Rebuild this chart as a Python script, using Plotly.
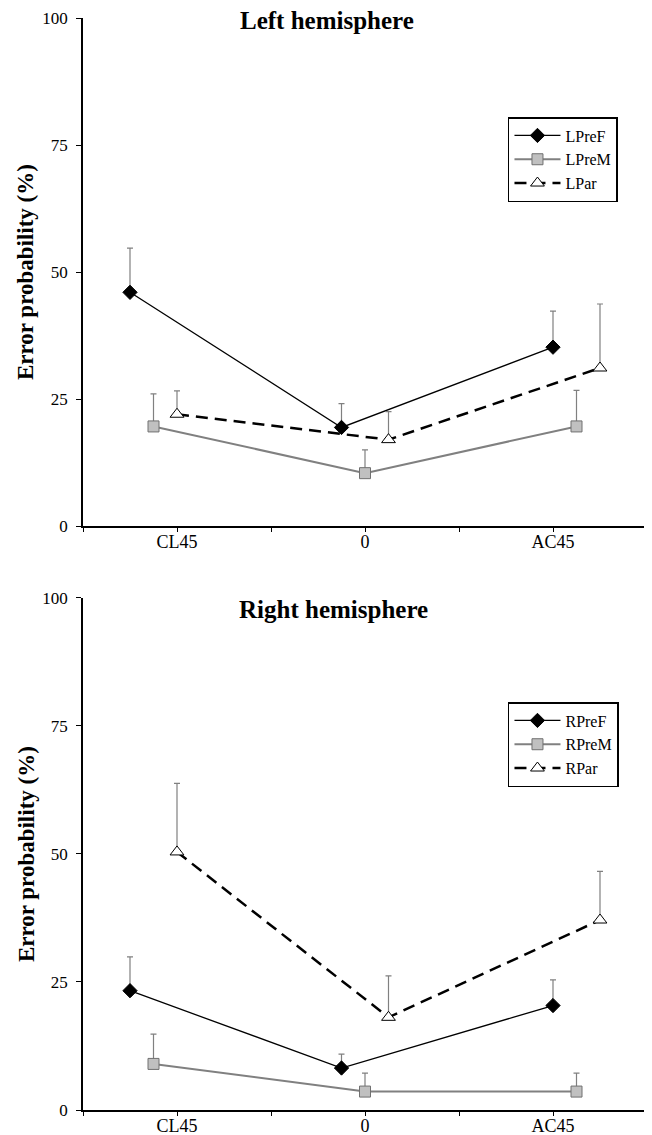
import plotly.graph_objects as go

# ---------------- data ----------------
categories = ["CL45", "0", "AC45"]
y_ticks = [0, 25, 50, 75, 100]

left_names = ["LPreF", "LPreM", "LPar"]
left_pref = [46.0, 19.4, 35.2]
left_pref_err = [8.7, 4.7, 7.1]
left_prem = [19.6, 10.4, 19.6]
left_prem_err = [6.4, 4.6, 7.1]
left_par = [22.0, 17.0, 31.1]
left_par_err = [4.6, 5.5, 12.6]

right_names = ["RPreF", "RPreM", "RPar"]
right_pref = [23.3, 8.2, 20.4]
right_pref_err = [6.6, 2.7, 5.0]
right_prem = [9.0, 3.6, 3.6]
right_prem_err = [5.8, 3.6, 3.6]
right_par = [50.4, 18.1, 37.1]
right_par_err = [13.4, 8.1, 9.5]

# ---------------- styles ----------------
FONT = "Liberation Serif, Times New Roman, serif"
styles = [
    dict(shift=-0.25,
         line=dict(color="black", width=1.3),
         marker=dict(symbol="diamond", size=11, color="black",
                     line=dict(color="black", width=1))),
    dict(shift=-0.125,
         line=dict(color="#808080", width=2),
         marker=dict(symbol="square", size=11, color="#c0c0c0",
                     line=dict(color="#707070", width=1))),
    dict(shift=0.0,
         line=dict(color="black", width=2.5, dash="12px,7px"),
         marker=dict(symbol="triangle-up", size=12, color="white",
                     line=dict(color="black", width=1))),
]
DRIFT = 0.125

fig = go.Figure()

panels = [
    ("x", "y", "legend", left_names,
     [left_pref, left_prem, left_par],
     [left_pref_err, left_prem_err, left_par_err]),
    ("x2", "y2", "legend2", right_names,
     [right_pref, right_prem, right_par],
     [right_pref_err, right_prem_err, right_par_err]),
]

for xa, ya, lg, names, vals, errs in panels:
    for name, v, e, st in zip(names, vals, errs, styles):
        xs = [i + st["shift"] + DRIFT * i for i in range(len(categories))]
        fig.add_trace(go.Scatter(
            x=xs, y=v, name=name, mode="lines+markers",
            line=st["line"], marker=st["marker"],
            error_y=dict(type="data", symmetric=False, array=e,
                         arrayminus=[0] * len(e), color="#808080",
                         thickness=1.2, width=3),
            xaxis=xa, yaxis=ya, legend=lg, showlegend=True,
        ))

tickvals_x = [-0.5, 0, 0.5, 1, 1.5, 2, 2.5]
ticktext_x = ["", categories[0], "", categories[1], "", categories[2], ""]

xaxis_common = dict(range=[-0.5, 2.5], tickvals=tickvals_x, ticktext=ticktext_x,
                    showline=True, linecolor="black", linewidth=1.6,
                    ticks="outside", ticklen=4, tickwidth=1.2, tickcolor="black",
                    ticklabelstandoff=-5,
                    showgrid=False, zeroline=False, automargin=False,
                    tickfont=dict(family=FONT, size=18, color="black"))
yaxis_common = dict(range=[0, 100], tickvals=y_ticks,
                    showline=True, linecolor="black", linewidth=1.6,
                    ticks="outside", ticklen=5, tickwidth=1.2, tickcolor="black",
                    ticklabelstandoff=5,
                    showgrid=False, zeroline=False, automargin=False,
                    tickfont=dict(family=FONT, size=17, color="black"))

legend_common = dict(bgcolor="white", bordercolor="black", borderwidth=1.5,
                     font=dict(family=FONT, size=16, color="black"),
                     xanchor="left", yanchor="top", x=0.7535,
                     itemwidth=46, itemclick=False, tracegroupgap=0)

# The page body has an 8px margin, so the figure is 8px smaller than the window.
fig.update_layout(
    width=644, height=1127,
    margin=dict(l=75, r=5, t=10, b=25),
    paper_bgcolor="white", plot_bgcolor="white",
    xaxis=dict(domain=[0, 1], anchor="y", **xaxis_common),
    yaxis=dict(domain=[0.5348, 1], anchor="x", **yaxis_common),
    xaxis2=dict(domain=[0, 1], anchor="y2", **xaxis_common),
    yaxis2=dict(domain=[0, 0.4689], anchor="x2", **yaxis_common),
    legend=dict(y=0.9093, **legend_common),
    legend2=dict(y=0.3736, **legend_common),
    annotations=[
        dict(text="<b>Left hemisphere</b>", xref="paper", yref="paper",
             x=0.4326, y=0.9977, xanchor="center", yanchor="middle", showarrow=False,
             font=dict(family=FONT, size=25, color="black")),
        dict(text="<b>Right hemisphere</b>", xref="paper", yref="paper",
             x=0.445, y=0.4581, xanchor="center", yanchor="middle", showarrow=False,
             font=dict(family=FONT, size=25, color="black")),
        dict(text="<b>Error probability (%)</b>", xref="paper", yref="paper",
             x=-0.101, y=0.7674, xanchor="center", yanchor="middle", showarrow=False,
             textangle=-90, font=dict(family=FONT, size=23, color="black")),
        dict(text="<b>Error probability (%)</b>", xref="paper", yref="paper",
             x=-0.101, y=0.2344, xanchor="center", yanchor="middle", showarrow=False,
             textangle=-90, font=dict(family=FONT, size=23, color="black")),
    ],
)

fig.write_html("out.html")
